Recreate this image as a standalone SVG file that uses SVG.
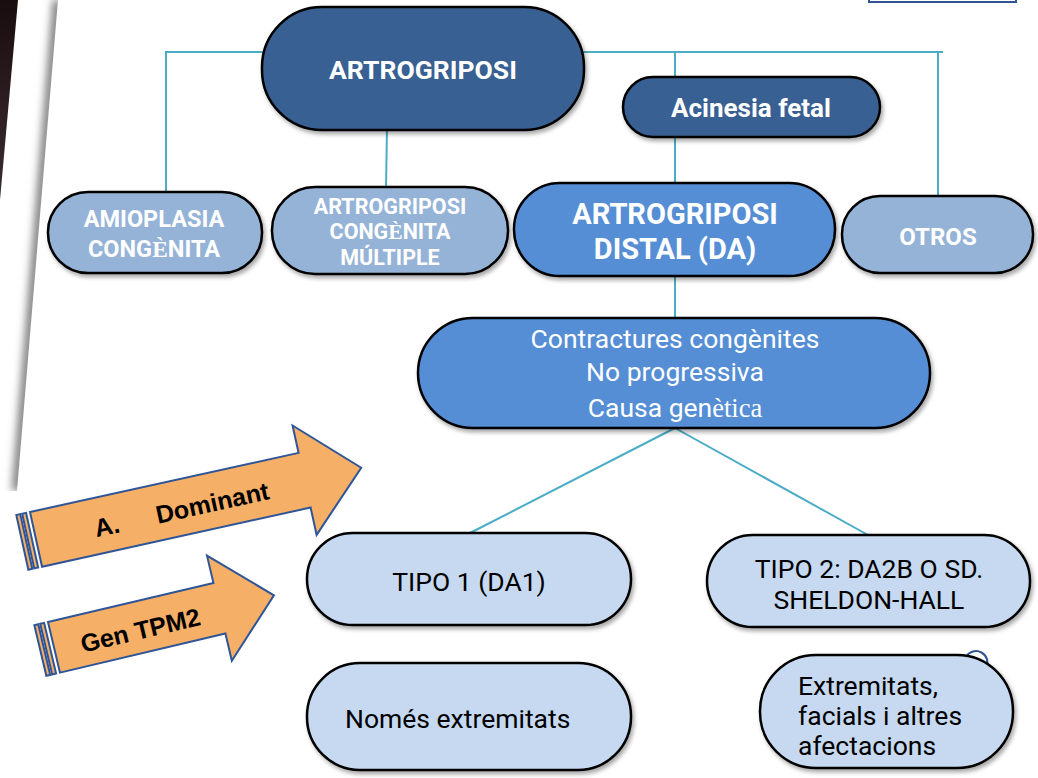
<svg xmlns="http://www.w3.org/2000/svg" width="1038" height="778" viewBox="0 0 1038 778">
<defs>
<filter id="sh" x="-10%" y="-10%" width="125%" height="135%">
<feDropShadow dx="2" dy="3" stdDeviation="2" flood-color="#000" flood-opacity="0.35"/>
</filter>
<filter id="blur" x="-50%" y="-10%" width="200%" height="120%"><feGaussianBlur stdDeviation="4"/></filter>
<linearGradient id="dark" x1="0" y1="0" x2="0" y2="1"><stop offset="0" stop-color="#1a0d0e"/><stop offset="1" stop-color="#3b2c33"/></linearGradient>
<clipPath id="paper"><polygon points="0,200 18,0 58,0 17,491 0,491"/></clipPath>
<style>
.n{stroke:#000;stroke-width:2.5;filter:url(#sh)}
.d{fill:#376092}
.m{fill:#95B3D7}
.b{fill:#558ED5}
.l{fill:#C6D9F1}
.tw{fill:#fff;font-family:Roboto,"Liberation Sans",sans-serif;text-anchor:middle}
.tb{font-weight:bold}
.tk{fill:#000;font-family:Roboto,"Liberation Sans",sans-serif}
.c{stroke:#4BACC6;stroke-width:2;fill:none}
.ar{fill:#F5AF66;stroke:#2F5597;stroke-width:2;stroke-linejoin:miter}
.at{fill:#000;font-family:"Liberation Sans",Arial,sans-serif;font-weight:bold;text-anchor:middle}
.sf{font-family:"Liberation Serif",serif}
</style>
</defs>
<rect width="1038" height="778" fill="#fff"/>
<g id="background">
<polygon points="0,0 18,0 0,200" fill="url(#dark)"/>
<g clip-path="url(#paper)">
<line x1="58" y1="0" x2="17" y2="491" stroke="#777" stroke-width="10" filter="url(#blur)"/>
<line x1="0" y1="491" x2="20" y2="491" stroke="#777" stroke-width="10" filter="url(#blur)"/>
</g>
<rect x="869" y="-10" width="147" height="12" fill="#fff" stroke="#2F5597" stroke-width="2"/>
<path d="M966,657 A11,11 0 0 1 986,668" fill="none" stroke="#2F5597" stroke-width="2"/>
</g>
<g id="connectors">
<polyline class="c" points="166,192 166,52 943,52"/>
<line class="c" x1="387" y1="128" x2="386" y2="188"/>
<line class="c" x1="675" y1="52" x2="675" y2="77"/>
<line class="c" x1="675" y1="137" x2="675" y2="183"/>
<line class="c" x1="675" y1="276" x2="675" y2="318"/>
<line class="c" x1="938" y1="52" x2="938" y2="196"/>
<line class="c" x1="675" y1="428" x2="470" y2="533"/>
<line class="c" x1="675" y1="428" x2="868" y2="535"/>
</g>
<g id="n-artrogriposi"><rect class="n d" x="262" y="7" width="322" height="123" rx="60" ry="60"/><text class="tw tb" x="423" y="79" font-size="26.5">ARTROGRIPOSI</text></g>
<g id="n-acinesia"><rect class="n d" x="623" y="77" width="257" height="60" rx="30"/><text class="tw tb" x="751" y="117" font-size="26">Acinesia fetal</text></g>
<g id="n-amioplasia"><rect class="n m" x="48" y="192" width="214" height="81" rx="40"/><text class="tw tb" x="154" y="227" font-size="23.5">AMIOPLASIA</text><text class="tw tb" x="154" y="257" font-size="23.5">CONG<tspan class="sf">È</tspan>NITA</text></g>
<g id="n-acm"><rect class="n m" x="272" y="187" width="236" height="87" rx="43"/><text class="tw tb" x="390" y="214" font-size="21.5">ARTROGRIPOSI</text><text class="tw tb" x="390" y="239" font-size="21.5">CONG<tspan class="sf">È</tspan>NITA</text><text class="tw tb" x="390" y="265" font-size="21.5">MÚLTIPLE</text></g>
<g id="n-da"><rect class="n b" x="514" y="183" width="321" height="93" rx="46"/><text class="tw tb" x="675" y="224" font-size="29">ARTROGRIPOSI</text><text class="tw tb" x="675" y="259" font-size="29">DISTAL (DA)</text></g>
<g id="n-otros"><rect class="n m" x="842" y="196" width="191" height="77" rx="38"/><text class="tw tb" x="938" y="245" font-size="24">OTROS</text></g>
<g id="n-contractures"><rect class="n b" x="418" y="318" width="512" height="110" rx="55"/><text class="tw" x="675" y="348" font-size="26.5">Contractures congènites</text><text class="tw" x="675" y="381" font-size="26.5">No progressiva</text><text class="tw" x="675" y="417" font-size="26.5">Causa gen<tspan class="sf">ètica</tspan></text></g>
<g id="n-tipo1"><rect class="n l" x="307" y="533" width="324" height="92" rx="46"/><text class="tk" x="469" y="591" font-size="26.5" text-anchor="middle">TIPO 1 (DA1)</text></g>
<g id="n-tipo2"><rect class="n l" x="707" y="535" width="323" height="92" rx="46"/><text class="tk" x="869" y="578" font-size="26.5" text-anchor="middle">TIPO 2: DA2B O SD.</text><text class="tk" x="869" y="609" font-size="26.5" text-anchor="middle">SHELDON-HALL</text></g>
<g id="n-nomes"><rect class="n l" x="307" y="663" width="324" height="107" rx="53"/><text class="tk" x="345" y="728" font-size="26.5">Només extremitats</text></g>
<g id="n-extremitats"><rect class="n l" x="760" y="655" width="253" height="113" rx="56"/><text class="tk" x="798" y="695" font-size="26.5">Extremitats,</text><text class="tk" x="798" y="725" font-size="26.5">facials i altres</text><text class="tk" x="798" y="755" font-size="26.5">afectacions</text></g>
<g id="arrow-dominant" transform="translate(30,512) rotate(-12.42)">
<rect class="ar" x="-14" y="0" width="4" height="56"/>
<rect class="ar" x="-8" y="0" width="4" height="56"/>
<polygon class="ar" points="0,0 275,0 275,-28 333,28 275,84 275,56 0,56"/>
<text class="at" x="72" y="39" font-size="25">A.</text>
<text class="at" x="180" y="39" font-size="25">Dominant</text>
</g>
<g id="arrow-tpm2" transform="translate(48,622) rotate(-13.3)">
<rect class="ar" x="-14" y="0" width="4" height="52"/>
<rect class="ar" x="-8" y="0" width="4" height="52"/>
<polygon class="ar" points="0,0 170,0 170,-28 226,26 170,80 170,52 0,52"/>
<text class="at" x="88" y="38" font-size="25">Gen TPM2</text>
</g>
</svg>
